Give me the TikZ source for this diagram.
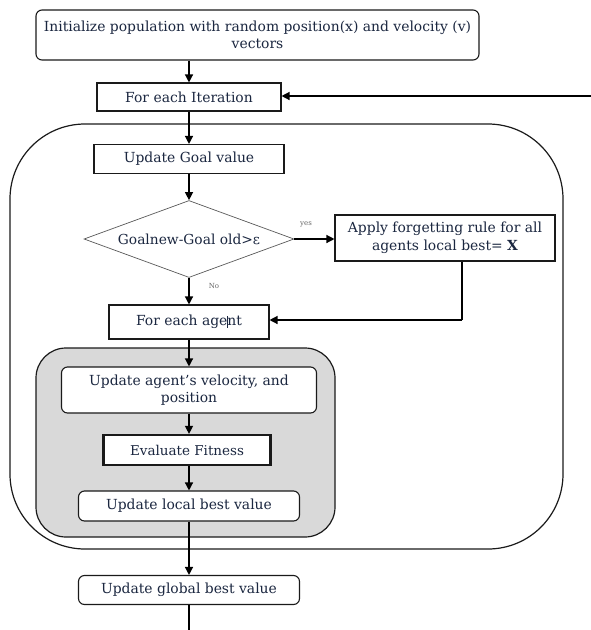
\documentclass[tikz,border=0pt]{standalone}
\usepackage{fontspec}
\setmainfont{DejaVu Serif}
\usetikzlibrary{arrows.meta,shapes.geometric}
\definecolor{txt}{HTML}{1B2740}
\definecolor{linec}{HTML}{1A1A1A}
\definecolor{panel}{HTML}{D9D9D9}
\tikzset{
  box/.style={draw=linec, line width=1.1pt, fill=white, text=txt, inner sep=1pt, align=center,
    font=\fontsize{13.9}{17.5}\selectfont},
  rbox/.style={box, rounded corners=6pt},
  arr/.style={line width=1.3pt, draw=black, -{Triangle[length=8pt,width=8pt]}},
  plainline/.style={line width=1.3pt, draw=black},
  smalllbl/.style={text=gray!80!black, font=\fontsize{7}{8}\selectfont, inner sep=0pt}
}
\begin{document}
\begin{tikzpicture}[x=1pt,y=-1pt]
\useasboundingbox (0,0) rectangle (591,630);
% containers
\node[draw=linec, line width=1.2pt, rounded corners=75pt, minimum width=553pt, minimum height=425pt, inner sep=0pt] (outer) at (286.5,336.5) {};
\node[draw=linec, line width=1.2pt, fill=panel, rounded corners=30pt, minimum width=299pt, minimum height=189pt, inner sep=0pt] (inner) at (185.5,442.5) {};
% boxes
\node[rbox, minimum width=443pt, minimum height=50pt] (init) at (257.5,35) {Initialize population with random position(x) and velocity (v)\\vectors};
\node[box, minimum width=184pt, minimum height=28pt] (iter) at (189,97) {For each Iteration};
\node[box, minimum width=190pt, minimum height=29pt] (goal) at (189,159) {Update Goal value};
\node[diamond, draw=gray!70!black, line width=0.7pt, fill=white, aspect=2.7, minimum width=210pt, minimum height=77pt, inner sep=0pt, text=txt, font=\fontsize{13.8}{15}\selectfont] (dec) at (189,239) {Goalnew-Goal old>ε};
\node[box, minimum width=220pt, minimum height=46pt] (apply) at (445,238) {Apply forgetting rule for all\\agents local best= \textbf{X}};
\node[box, minimum width=160pt, minimum height=34pt] (agent) at (189,322) {For each age\rlap{\rule[-2pt]{0.5pt}{12pt}}nt};
\node[rbox, minimum width=255pt, minimum height=46pt] (vel) at (189,390) {Update agent’s velocity, and\\position};
\node[box, line width=2.2pt, minimum width=167pt, minimum height=30pt, font=\fontsize{13.5}{15}\selectfont] (eval) at (187,450) {Evaluate Fitness};
\node[rbox, minimum width=221pt, minimum height=30pt] (local) at (189,506) {Update local best value};
\node[rbox, minimum width=221pt, minimum height=29pt] (global) at (189,590) {Update global best value};
% labels
\node[smalllbl] (yes) at (306,224) {yes};
\node[smalllbl] (no) at (214,286) {No};
% coordinates
\coordinate (fb) at (591,96);
\coordinate (lp) at (462,320);
\coordinate (endpt) at (189,630);
% connectors
\draw[arr] (init.south -| iter.north) -- (iter.north);
\draw[arr] (fb) -- (fb -| iter.east);
\draw[arr] (iter.south) -- (goal.north);
\draw[arr] (goal.south) -- (dec.north);
\draw[arr] (dec.east) -- (dec.east -| apply.west);
\draw[plainline] (apply.south -| lp) -- (lp);
\draw[arr] (lp) -- (lp -| agent.east);
\draw[arr] (dec.south) -- (agent.north);
\draw[arr] (agent.south) -- (vel.north);
\draw[arr] (vel.south) -- (eval.north -| vel.south);
\draw[arr] (eval.south -| local.north) -- (local.north);
\draw[arr] (local.south) -- (global.north);
\draw[plainline] (global.south) -- (endpt);
\end{tikzpicture}
\end{document}
